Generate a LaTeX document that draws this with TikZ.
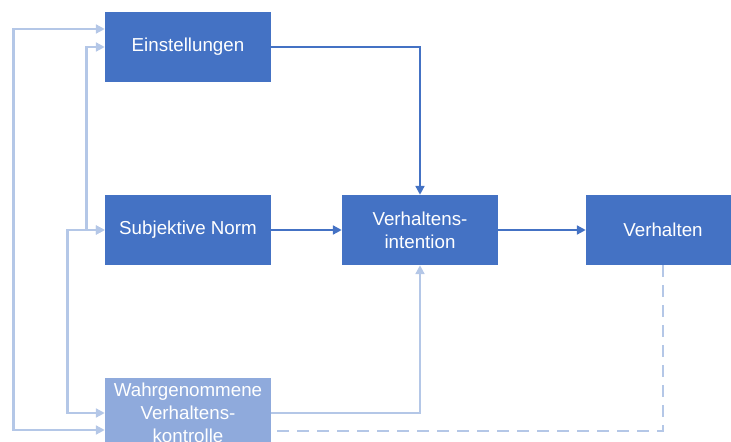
\documentclass[tikz,border=0pt]{standalone}
\usepackage{fontspec}
\setmainfont{Liberation Sans}
\usetikzlibrary{arrows.meta,calc}
\definecolor{boxblue}{HTML}{4472C4}
\definecolor{boxlight}{HTML}{8FAADC}
\definecolor{linelight}{HTML}{B4C7E7}
\begin{document}
\begin{tikzpicture}[
      x=0.03cm, y=-0.03cm,
      box/.style={rectangle, fill=boxblue, text=white, minimum width=4.98cm, minimum height=2.1cm,
                  align=center, font=\fontsize{16}{19.5}\selectfont},
      softbox/.style={box, fill=boxlight},
      arrow/.style={-{Triangle[length=7.5pt,width=7.5pt]}, line width=2.3pt, draw=boxblue},
      feedback/.style={{Triangle[length=7.5pt,width=7.5pt]}-{Triangle[length=7.5pt,width=7.5pt]}, line width=2.3pt, draw=linelight},
      softarrow/.style={-{Triangle[length=7.5pt,width=7.5pt]}, line width=2.3pt, draw=linelight},
      dashline/.style={line width=2.3pt, draw=linelight, dash pattern=on 0.36cm off 0.24cm}
    ]
    \clip (0,0) rectangle (731,441);
    \useasboundingbox (0,0) rectangle (731,441);

    % Boxes
    \node[box] (einst) at (188,47) {Einstellungen};
    \node[box] (norm) at (188,230) {Subjektive Norm};
    \node[box, minimum width=4.68cm] (intent) at (420,230) {Verhaltens-\\intention};
    \node[box, minimum width=4.62cm] (verh) at (663,230) {Verhalten};
    \node[softbox] (kontr) at (188,413) {Wahrgenommene\\Verhaltens-\\kontrolle};

    % Helper points on the box sides
    \coordinate (einsttop) at ($(einst.west)+(0,-18)$);
    \coordinate (kontrlow) at ($(kontr.west)+(0,17)$);
    \coordinate (kontrend) at ($(kontr.east)+(0,18)$);

    % Main paths
    \draw[arrow] (einst.east) -| (intent.north);
    \draw[arrow] (norm) -- (intent);
    \draw[arrow] (intent) -- (verh);
    \draw[softarrow] (kontr.east) -| (intent.south);

    % Correlations between the predictors
    \draw[feedback] (einsttop) -- ++(-91,0) |- (kontrlow);
    \draw[feedback] (einst.west) -- ++(-18,0) |- (norm.west);
    \draw[feedback] (norm.west) -- ++(-37,0) |- (kontr.west);

    % Feedback
    \draw[dashline] (verh.south) |- (kontrend);
  \end{tikzpicture}
\end{document}
